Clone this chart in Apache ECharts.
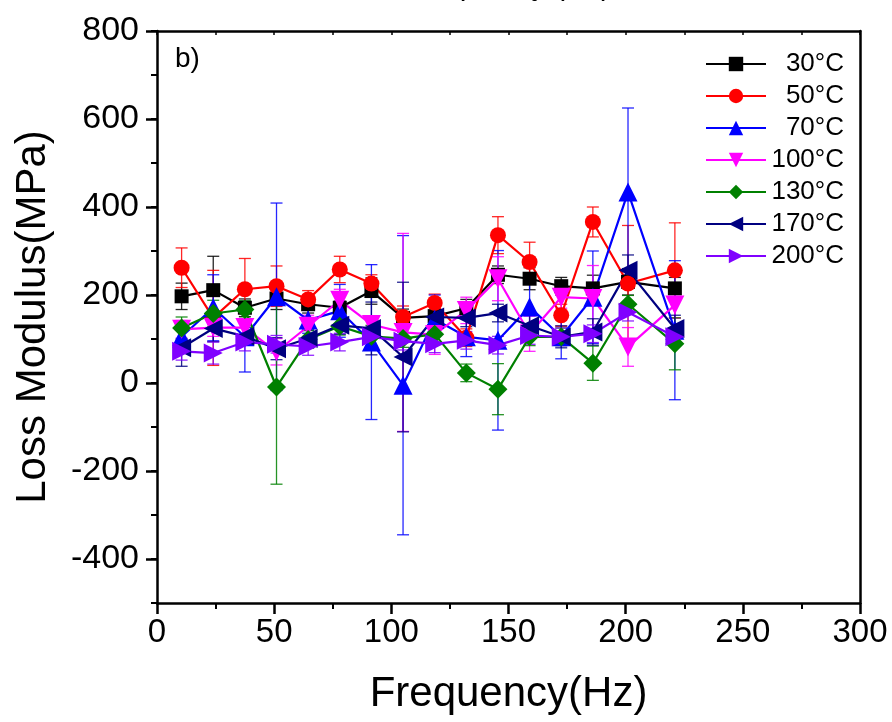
<!DOCTYPE html>
<html>
<head>
<meta charset="utf-8">
<script src="https://cdn.jsdelivr.net/npm/echarts@6/dist/echarts.min.js"></script>
<style>
html,body{margin:0;padding:0;background:#fff;}
#chart{width:892px;height:722px;}
</style>
</head>
<body>
<div id="chart"></div>
<script>
// ---- data ----
const freq = [10.5, 24, 37.5, 51, 64.5, 78, 91.5, 105, 118.5, 132, 145.5, 159, 172.5, 186, 201, 221];
const seriesNames = ['30\u00b0C', '50\u00b0C', '70\u00b0C', '100\u00b0C', '130\u00b0C', '170\u00b0C', '200\u00b0C'];
const v30  = [197, 211, 171, 192, 179, 171, 209, 148, 152, 170, 246, 237, 220, 215, 230, 215];
const e30  = [30, 77, 20, 25, 20, 15, 30, 20, 30, 20, 20, 25, 20, 30, 30, 25];
const v50  = [262, 148, 213, 220, 190, 258, 226, 150, 182, 103, 336, 275, 154, 366, 226, 256];
const e50  = [45, 108, 70, 46, 20, 30, 20, 25, 20, 20, 42, 45, 25, 34, 132, 108];
const v70  = [105, 171, 105, 196, 143, 164, 93, -5, 145, 105, 97, 173, 105, 195, 434, 120];
const e70  = [30, 75, 80, 213, 30, 60, 176, 340, 55, 45, 204, 60, 50, 105, 191, 158];
const v100 = [122, 126, 126, 71, 129, 188, 133, 115, 110, 165, 237, 112, 195, 192, 82, 177];
const e100 = [20, 20, 20, 30, 25, 25, 20, 225, 45, 30, 50, 40, 25, 75, 44, 30];
const v130 = [125, 158, 167, -9, 99, 129, 106, 101, 111, 23, -14, 105, 105, 45, 179, 89];
const e130 = [25, 30, 20, 221, 20, 20, 25, 20, 20, 20, 58, 20, 20, 39, 20, 59];
const v170 = [80, 124, 106, 78, 101, 131, 124, 59, 150, 148, 159, 130, 105, 116, 256, 124];
const e170 = [42, 30, 20, 25, 20, 20, 60, 170, 25, 20, 20, 25, 25, 30, 35, 30];
const v200 = [72, 68, 93, 88, 83, 93, 105, 95, 89, 97, 86, 108, 105, 112, 161, 105];
const e200 = [20, 25, 20, 20, 20, 20, 20, 20, 20, 20, 20, 20, 20, 20, 20, 20];
const yTickLabels = ['-400', '-200', '0', '200', '400', '600', '800'];
const xTickLabels = ['0', '50', '100', '150', '200', '250', '300'];

const values = [v30, v50, v70, v100, v130, v170, v200];
const errors = [e30, e50, e70, e100, e130, e170, e200];
const colors = ['#000000', '#FF0000', '#0000FF', '#FF00FF', '#008000', '#000080', '#8000FF'];
const symbols = ['rect', 'circle', 'triangle', 'triangle', 'diamond', 'triangle', 'triangle'];
const rotates = [0, 0, 0, 180, 0, 90, -90];
const sizes = [14, 16, 19, 19, 19, 19, 19];

const FONT = 'Liberation Sans, Arial, sans-serif';
const chart = echarts.init(document.getElementById('chart'));

const errSeries = values.map((vals, k) => ({
  type: 'custom',
  name: seriesNames[k] + ' err',
  xAxisIndex: 0, yAxisIndex: 0,
  z: 2,
  data: freq.map((f, i) => [f, vals[i] - errors[k][i], vals[i] + errors[k][i]]),
  encode: { x: 0, y: [1, 2] },
  renderItem: function (params, api) {
    const x = api.value(0);
    const lo = api.coord([x, api.value(1)]);
    const hi = api.coord([x, api.value(2)]);
    const hw = 6;
    const st = { stroke: colors[k], lineWidth: 1.3, opacity: 0.85 };
    return {
      type: 'group',
      children: [
        { type: 'line', shape: { x1: lo[0], y1: lo[1], x2: hi[0], y2: hi[1] }, style: st },
        { type: 'line', shape: { x1: lo[0] - hw, y1: lo[1], x2: lo[0] + hw, y2: lo[1] }, style: st },
        { type: 'line', shape: { x1: hi[0] - hw, y1: hi[1], x2: hi[0] + hw, y2: hi[1] }, style: st }
      ]
    };
  }
}));

const lineSeries = values.map((vals, k) => ({
  type: 'line',
  name: seriesNames[k],
  xAxisIndex: 0, yAxisIndex: 0,
  z: 3,
  data: freq.map((f, i) => [f, vals[i]]),
  symbol: symbols[k],
  symbolRotate: rotates[k],
  symbolSize: sizes[k],
  showSymbol: true,
  lineStyle: { color: colors[k], width: 2.2 },
  itemStyle: { color: colors[k] },
  animation: false
}));

const option = {
  animation: false,
  backgroundColor: '#fff',
  textStyle: { fontFamily: FONT },
  grid: [
    { left: 157, top: 31, width: 703, height: 572, containLabel: false },
    { left: 157, top: 31, width: 703, height: 528, containLabel: false }
  ],
  xAxis: [
    {
      type: 'value', gridIndex: 0, min: 0, max: 300, interval: 50,
      name: 'Frequency(Hz)', nameLocation: 'middle', nameGap: 70,
      nameTextStyle: { fontSize: 42, color: '#000', fontFamily: FONT },
      axisLine: { show: true, onZero: false, lineStyle: { color: '#000', width: 2.5 } },
      axisTick: { show: true, inside: false, length: 11, lineStyle: { color: '#000', width: 2.5 } },
      minorTick: { show: true, splitNumber: 2, length: 6, lineStyle: { color: '#000', width: 2 } },
      axisLabel: { fontSize: 33, color: '#000', margin: 13, fontFamily: FONT,
        formatter: v => xTickLabels[Math.round(v / 50)] },
      splitLine: { show: false }
    },
    {
      type: 'value', gridIndex: 0, position: 'top', min: 0, max: 300, interval: 25,
      axisLine: { show: true, onZero: false, lineStyle: { color: '#000', width: 2.5 } },
      axisTick: { show: true, inside: true, length: 4, lineStyle: { color: '#000', width: 1.5 } },
      axisLabel: { show: false }, splitLine: { show: false }
    },
    {
      type: 'value', gridIndex: 1, min: 0, max: 300, show: false
    }
  ],
  yAxis: [
    {
      type: 'value', gridIndex: 0, min: -500, max: 800, interval: 100,
      name: 'Loss Modulus(MPa)', nameLocation: 'middle', nameGap: 103, nameRotate: 90,
      nameTextStyle: { fontSize: 42, color: '#000', fontFamily: FONT },
      axisLine: { show: true, onZero: false, lineStyle: { color: '#000', width: 2.5 } },
      axisTick: { show: true, inside: false, length: 6, lineStyle: { color: '#000', width: 2 } },
      axisLabel: { fontSize: 34, color: '#000', margin: 18, fontFamily: FONT,
        formatter: v => (Math.abs(v % 200) < 1e-6 && v >= -400) ? yTickLabels[Math.round((v + 400) / 200)] : '' },
      splitLine: { show: false }
    },
    {
      type: 'value', gridIndex: 0, position: 'right', min: -500, max: 800,
      axisLine: { show: true, onZero: false, lineStyle: { color: '#000', width: 2.5 } },
      axisTick: { show: false }, axisLabel: { show: false }, splitLine: { show: false }
    },
    {
      type: 'value', gridIndex: 1, min: -400, max: 800, interval: 200,
      axisLine: { show: false },
      axisTick: { show: true, inside: false, length: 11, lineStyle: { color: '#000', width: 2.5 } },
      axisLabel: { show: false }, splitLine: { show: false }
    }
  ],
  legend: {
    orient: 'vertical',
    left: 700, top: 46,
    itemWidth: 60, itemHeight: 18, itemGap: 6,
    data: seriesNames,
    formatter: name => '{a|' + name + '}',
    textStyle: { fontSize: 26, color: '#000', fontFamily: FONT, lineHeight: 26,
      rich: { a: { fontSize: 26, width: 73, align: 'right', fontFamily: FONT, lineHeight: 26 } } },
    selectedMode: false
  },
  graphic: [
    { type: 'text', left: 175, top: 45, style: { text: 'b)', fontSize: 28, fill: '#000', fontFamily: FONT } },
    { type: 'text', x: 508, y: -13, style: { text: 'Frequency (Hz)', fontSize: 30, fill: '#000', fontFamily: FONT, align: 'center', verticalAlign: 'middle' } }
  ],
  series: errSeries.concat(lineSeries)
};
chart.setOption(option);
</script>
</body>
</html>
